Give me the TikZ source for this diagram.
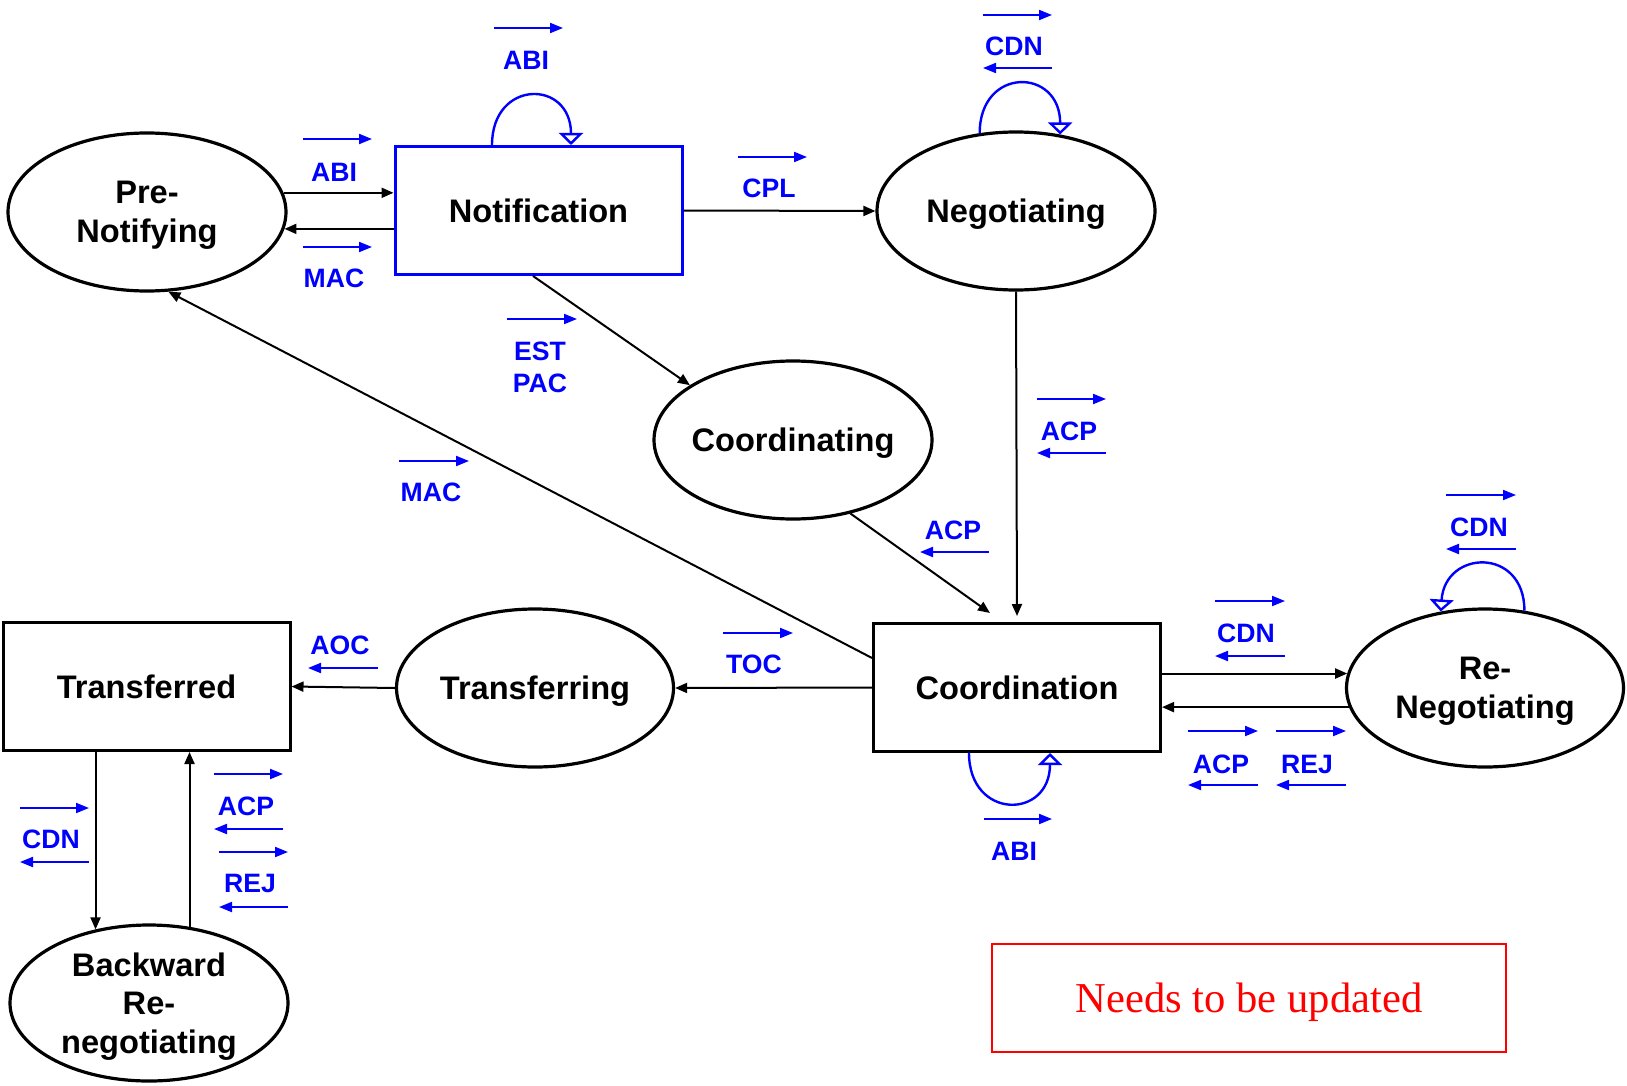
\documentclass[tikz,border=0pt]{standalone}
\usepackage{fontspec}
\setmainfont{Liberation Sans}
\newfontfamily\serifrm{Liberation Serif}
\usetikzlibrary{shapes.geometric,arrows.meta}
\begin{document}
\begin{tikzpicture}[x=0.5pt,y=-0.5pt,
  state/.style={ellipse,draw,line width=1.6pt,minimum width=139pt,minimum height=79pt,inner xsep=-4pt,inner ysep=0pt,text depth=0pt,align=center,font=\fontsize{16.3}{19.3}\selectfont\bfseries},
  box/.style={rectangle,draw,line width=1.5pt,minimum width=143.5pt,minimum height=64pt,inner sep=0pt,align=center,font=\fontsize{16.3}{19.3}\selectfont\bfseries},
  conn/.style={line width=1pt,-{Triangle[length=6pt,width=5pt]}},
  tag/.style={text=blue,font=\fontsize{13.3}{16}\selectfont\bfseries,inner sep=0pt,align=center},
  barr/.style={blue,line width=1pt,-{Triangle[length=6.5pt,width=5pt]}},
  selfloop/.style={blue,line width=1.2pt,-{Triangle[open,length=6pt,width=12pt]}},
]
\useasboundingbox (0,0) rectangle (1627,1086);

% states
\node[state] (pre) at (147,212) {Pre-\\Notifying};
\node[box,draw=blue] (notif) at (538.5,210.5) {Notification};
\node[state] (neg) at (1016,211) {Negotiating};
\node[state] (cing) at (793,440) {Coordinating};
\node[box] (coordn) at (1017,687.5) {Coordination};
\node[state,minimum width=138.5pt] (reneg) at (1485,688) {Re-\\Negotiating};
\node[state,minimum width=138.5pt] (tring) at (535,688) {Transferring};
\node[box] (tred) at (146.5,686.5) {Transferred};
\node[state,minimum height=78pt] (bwd) at (149,1003) {Backward\\Re-\\negotiating};
\node[draw=red,line width=0.75pt,minimum width=257pt,minimum height=54pt,inner sep=0pt,text depth=0pt,text=red,font=\serifrm\fontsize{21.3}{26}\selectfont] (note) at (1249,998) {Needs to be updated};

% connectors
\draw[conn] (pre.8) -- (pre.8 -| notif.west);
\draw[conn] (notif.west |- pre.353) -- (pre.353);
\draw[conn] (notif.east) -- (neg.west);
\draw[conn] ([xshift=-2.75pt]notif.south) -- (cing.152);
\draw[conn] (neg.south) -- ([yshift=3pt]coordn.north);
\draw[conn] (cing.308) -- ([xshift=-13.5pt,yshift=4.5pt]coordn.north);
\draw[conn] ([yshift=14.75pt]coordn.west) -- (pre.285);
\draw[conn] (coordn.west) -- (tring.east);
\draw[conn] (tring.west) -- (tred.east);
\draw[conn] (coordn.east |- reneg.174) -- (reneg.174);
\draw[conn] (reneg.188) -- (reneg.188 -| coordn.east);
\draw[conn] (tred.south -| bwd.126) -- (bwd.126);
\draw[conn] (bwd.62) -- (bwd.62 |- tred.south);

% self loops
\draw[selfloop] ([xshift=-23.25pt]notif.north) .. controls +(0,-66) and +(0,-66) .. ([xshift=16.25pt]notif.north);
\draw[selfloop] (neg.115) .. controls +(0,-67) and +(0,-67) .. (neg.60);
\draw[selfloop] ([xshift=-24pt]coordn.south) .. controls +(0,67) and +(0,67) .. ([xshift=16.5pt]coordn.south);
\draw[selfloop] (reneg.63) .. controls +(0,-64) and +(4,-62) .. (reneg.120);

% blue message labels
\draw[barr] (494,28) -- (563,28); \node[tag] (t1) at (526,60) {ABI};
\draw[barr] (303,139) -- (372,139); \node[tag] (t2) at (334,172) {ABI};
\draw[barr] (303,247) -- (372,247); \node[tag] (t3) at (334,278) {MAC};
\draw[barr] (738,157) -- (807,157); \node[tag] (t4) at (769,188) {CPL};
\draw[barr] (983,15) -- (1052,15); \node[tag] (t5) at (1014,46) {CDN}; \draw[barr] (1052,68) -- (983,68);
\draw[barr] (507,319) -- (577,319); \node[tag] (t6) at (540,367) {EST\\PAC};
\draw[barr] (1037,399) -- (1106,399); \node[tag] (t7) at (1069,431) {ACP}; \draw[barr] (1106,453) -- (1037,453);
\draw[barr] (399,461) -- (469,461); \node[tag] (t8) at (431,492) {MAC};
\node[tag] (t9) at (953,530) {ACP}; \draw[barr] (989,552) -- (920,552);
\draw[barr] (723,633) -- (793,633); \node[tag] (t10) at (754,664) {TOC};
\node[tag] (t11) at (340,645) {AOC}; \draw[barr] (378,668) -- (308,668);
\draw[barr] (1215,601) -- (1285,601); \node[tag] (t12) at (1246,633) {CDN}; \draw[barr] (1285,656) -- (1215,656);
\draw[barr] (1188,731) -- (1258,731); \node[tag] (t13) at (1221,764) {ACP}; \draw[barr] (1258,785) -- (1188,785);
\draw[barr] (1276,731) -- (1346,731); \node[tag] (t14) at (1307,764) {REJ}; \draw[barr] (1346,785) -- (1276,785);
\draw[barr] (984,819) -- (1052,819); \node[tag] (t15) at (1014,851) {ABI};
\draw[barr] (1446,495) -- (1516,495); \node[tag] (t16) at (1479,527) {CDN}; \draw[barr] (1516,549) -- (1446,549);
\draw[barr] (20,808) -- (89,808); \node[tag] (t17) at (51,839) {CDN}; \draw[barr] (89,862) -- (20,862);
\draw[barr] (214,774) -- (283,774); \node[tag] (t18) at (246,806) {ACP}; \draw[barr] (283,829) -- (214,829);
\draw[barr] (219,852) -- (288,852); \node[tag] (t19) at (250,883) {REJ}; \draw[barr] (288,907) -- (219,907);
\end{tikzpicture}
\end{document}
